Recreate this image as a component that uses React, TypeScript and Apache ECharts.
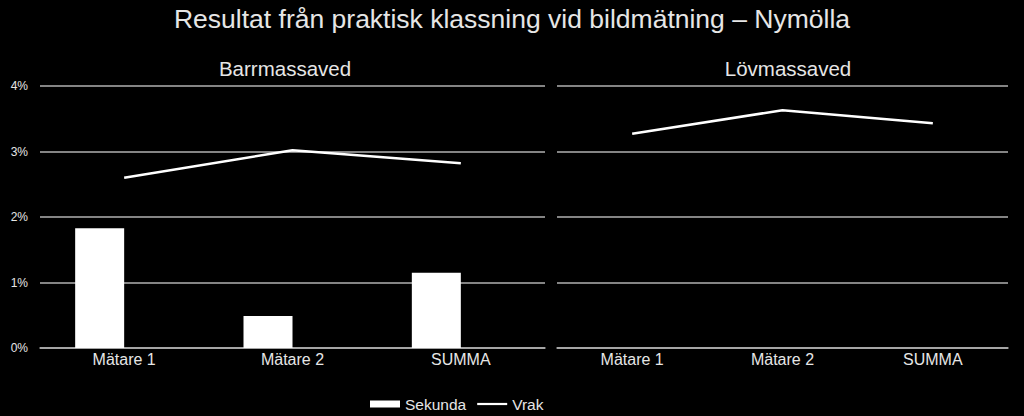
import React, { useEffect, useRef } from "react";
import * as echarts from "echarts";

const categories = ["Mätare 1", "Mätare 2", "SUMMA"];
const barrSekunda = [1.83, 0.49, 1.15];
const barrVrak = [2.6, 3.02, 2.82];
const lovSekunda: (number | null)[] = [null, null, null];
const lovVrak = [3.27, 3.63, 3.43];
const yTicks = [0, 1, 2, 3, 4];

export default function App() {
  const ref = useRef<HTMLDivElement>(null);
  useEffect(() => {
    document.body.style.margin = "0";
    document.body.style.background = "#000";
    const chart = echarts.init(ref.current!, null, { renderer: "svg" });
    const font = "Liberation Sans, Arial, sans-serif";
    const gridColor = "#b0b0b0";
    const textColor = "#e6e6e6";
    const yAxisBase = {
      type: "value" as const,
      min: yTicks[0],
      max: yTicks[yTicks.length - 1],
      interval: 1,
      axisLine: { show: false },
      axisTick: { show: false },
      splitLine: { lineStyle: { color: gridColor, width: 1.5 } },
    };
    const xAxisBase = {
      type: "category" as const,
      data: categories,
      axisLine: { lineStyle: { color: gridColor, width: 1.5 } },
      axisTick: { show: false },
      axisLabel: { color: textColor, fontSize: 16, fontFamily: font, margin: 3 },
    };
    chart.setOption({
      animation: false,
      backgroundColor: "#000",
      textStyle: { fontFamily: font },
      title: [
        {
          text: "Resultat från praktisk klassning vid bildmätning – Nymölla",
          left: "center",
          top: 0,
          textStyle: { color: textColor, fontSize: 26.5, fontWeight: "normal", fontFamily: font },
        },
        {
          text: "Barrmassaved",
          left: 280,
          textAlign: "center",
          top: 53,
          textStyle: { color: textColor, fontSize: 20.5, fontWeight: "normal", fontFamily: font },
        },
        {
          text: "Lövmassaved",
          left: 783,
          textAlign: "center",
          top: 53,
          textStyle: { color: textColor, fontSize: 20.5, fontWeight: "normal", fontFamily: font },
        },
      ],
      legend: {
        left: 365,
        top: 391,
        itemWidth: 30,
        itemHeight: 7,
        itemGap: 11,
        textStyle: { color: textColor, fontSize: 15.5, fontFamily: font },
        data: [
          { name: "Sekunda", icon: "rect" },
          { name: "Vrak", icon: "path://M0,0 M0,2.4 L30,2.4 L30,4.6 L0,4.6 Z M30,7" },
        ],
      },
      grid: [
        { left: 40, right: 1024 - 545, top: 86, bottom: 416 - 348 },
        { left: 557, right: 1024 - 1008, top: 86, bottom: 416 - 348 },
      ],
      xAxis: [
        { ...xAxisBase, gridIndex: 0 },
        { ...xAxisBase, gridIndex: 1 },
      ],
      yAxis: [
        {
          ...yAxisBase,
          gridIndex: 0,
          axisLabel: {
            color: textColor,
            fontSize: 12,
            fontFamily: font,
            margin: 12,
            formatter: (v: number) => v + "%",
          },
        },
        { ...yAxisBase, gridIndex: 1, axisLabel: { show: false } },
      ],
      series: [
        {
          name: "Sekunda",
          type: "bar",
          xAxisIndex: 0,
          yAxisIndex: 0,
          data: barrSekunda,
          barWidth: 49,
          barGap: "0%",
          itemStyle: { color: "#ffffff" },
        },
        {
          name: "_spacer",
          type: "bar",
          xAxisIndex: 0,
          yAxisIndex: 0,
          data: [null, null, null],
          barWidth: 49,
          barGap: "0%",
          itemStyle: { color: "transparent" },
        },
        {
          name: "Vrak",
          type: "line",
          xAxisIndex: 0,
          yAxisIndex: 0,
          data: barrVrak,
          symbol: "none",
          lineStyle: { color: "#ffffff", width: 2.5 },
          itemStyle: { color: "#ffffff" },
        },
        {
          name: "Sekunda",
          type: "bar",
          xAxisIndex: 1,
          yAxisIndex: 1,
          data: lovSekunda,
          barWidth: 49,
          barGap: "0%",
          itemStyle: { color: "#ffffff" },
        },
        {
          name: "Vrak",
          type: "line",
          xAxisIndex: 1,
          yAxisIndex: 1,
          data: lovVrak,
          symbol: "none",
          lineStyle: { color: "#ffffff", width: 2.5 },
          itemStyle: { color: "#ffffff" },
        },
      ],
    });
    return () => chart.dispose();
  }, []);
  return <div ref={ref} style={{ width: 1024, height: 416 }} />;
}
